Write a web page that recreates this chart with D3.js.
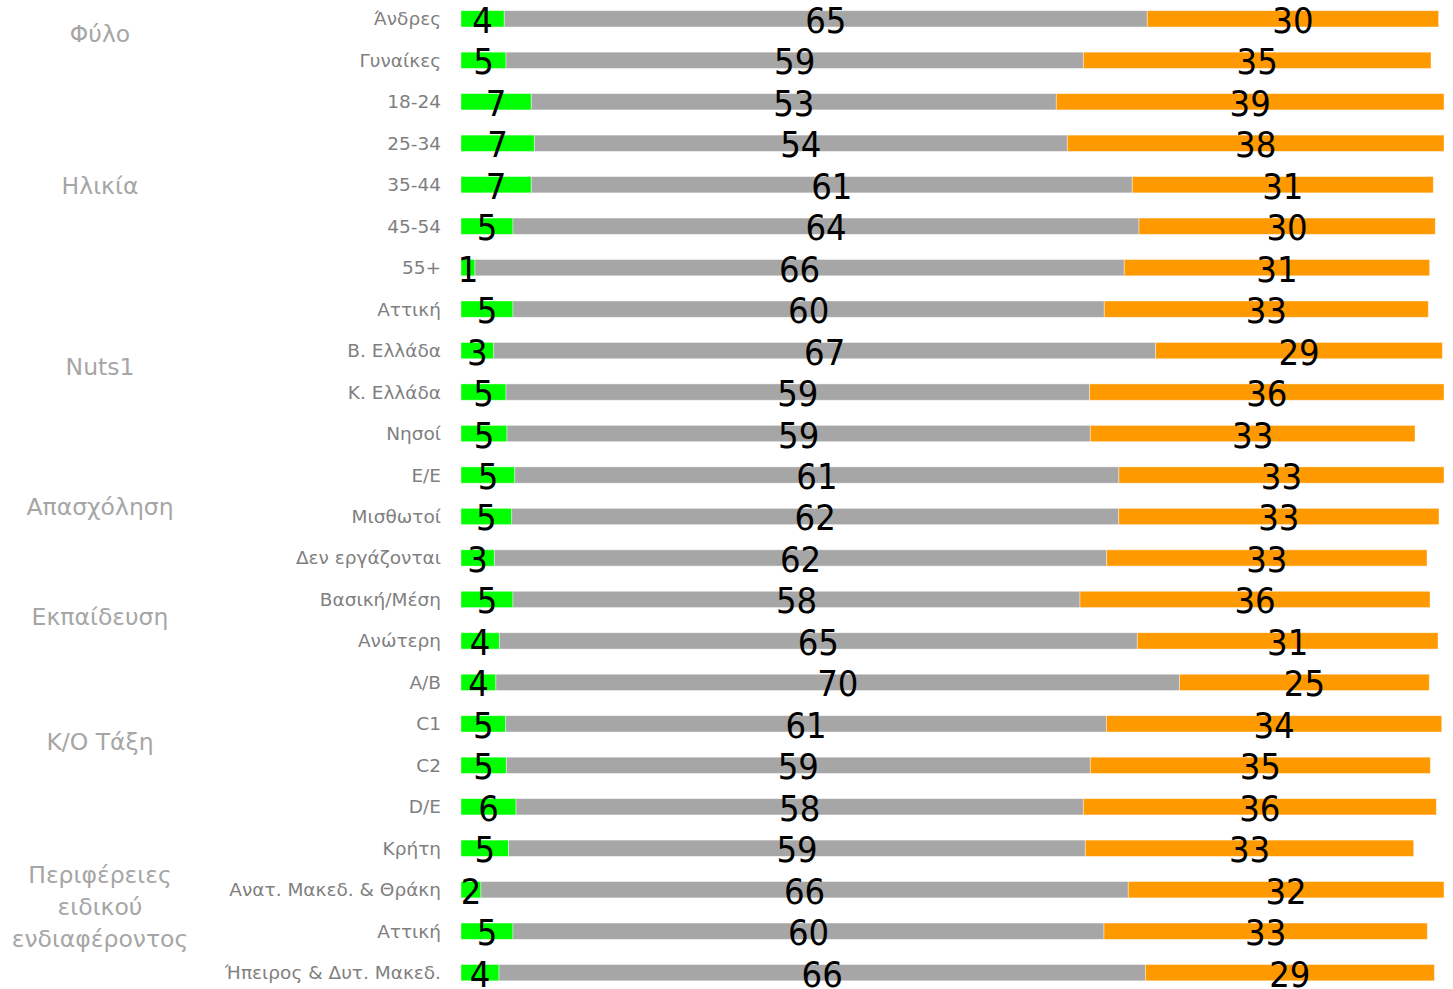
<!DOCTYPE html>
<html>
<head>
<meta charset="utf-8">
<style>
    body { margin: 0; background: #fff; }
    .cat { font-family: "DejaVu Sans", sans-serif; font-size: 18.5px; fill: #7f7f7f; }
    .grp { font-family: "DejaVu Sans", sans-serif; font-size: 23.5px; fill: #a6a6a6; }
    .val { font-family: "DejaVu Sans Condensed", "DejaVu Sans", sans-serif; font-size: 36px; fill: #000; }
</style>
<script src="https://cdn.jsdelivr.net/npm/d3@7"></script>
</head>
<body>
<svg id="container" width="1453" height="989"></svg>
<script>
    // κατηγορίες (γραμμές)
    const categories = ["Άνδρες", "Γυναίκες", "18-24", "25-34", "35-44", "45-54", "55+",
        "Αττική", "Β. Ελλάδα", "Κ. Ελλάδα", "Νησοί", "Ε/Ε", "Μισθωτοί", "Δεν εργάζονται",
        "Βασική/Μέση", "Ανώτερη", "Α/Β", "C1", "C2", "D/E",
        "Κρήτη", "Ανατ. Μακεδ. & Θράκη", "Αττική", "Ήπειρος & Δυτ. Μακεδ."]

    // τρεις σειρές (εκτίμηση από το σχήμα, οι ετικέτες στρογγυλεύονται)
    const greenValues  = [4.40, 4.58, 7.15, 7.46, 7.15, 5.29, 1.42, 5.29, 3.33, 4.58, 4.68, 5.48,
                          5.16, 3.39, 5.29, 3.90, 3.55, 4.55, 4.61, 5.60, 4.85, 2.03, 5.29, 3.87]
    const grayValues   = [65.41, 58.73, 53.41, 54.22, 61.14, 63.68, 66.05, 60.15, 67.34, 59.38, 59.34, 61.45,
                          61.75, 62.30, 57.68, 64.90, 69.55, 61.10, 59.41, 57.71, 58.66, 65.85, 60.12, 65.75]
    const orangeValues = [29.64, 35.37, 39.44, 38.32, 30.62, 30.14, 31.07, 32.96, 29.16, 36.04, 33.03, 33.07,
                          32.58, 32.58, 35.61, 30.59, 25.40, 34.12, 34.59, 35.91, 33.41, 32.12, 32.89, 29.40]

    // ομάδες: όνομα (γραμμές κειμένου), πρώτη και τελευταία γραμμή
    const groupNames = [["Φύλο"], ["Ηλικία"], ["Nuts1"], ["Απασχόληση"], ["Εκπαίδευση"], ["Κ/Ο Τάξη"],
                        ["Περιφέρειες", "ειδικού", "ενδιαφέροντος"]]
    const groupStart = [0, 2, 7, 11, 14, 16, 20]
    const groupEnd   = [1, 6, 10, 13, 15, 19, 23]
    const groupShift = [-3, 4, -1, -6, 0, 0, 0]

    const colors = ["#00ff00", "#a6a6a6", "#ff9900"]

    let svg = d3.select("#container")

    let rows = categories.map((c, i) => ({
        idx: i,
        name: c,
        vals: [greenValues[i], grayValues[i], orangeValues[i]]
    }))

    let xScale = d3.scaleLinear()
        .domain([0, 100])
        .range([461, 1444])

    let yScale = d3.scaleBand()
        .domain(d3.range(categories.length))
        .range([-1.9, 993.4])
        .paddingInner(0.607)
        .paddingOuter(0.3035)

    let stack = d3.stack()
        .keys([0, 1, 2])
        .value((d, k) => d.vals[k])

    let series = stack(rows)

    // περιορισμός στο εύρος του άξονα
    svg.append("clipPath").attr("id", "plot")
        .append("rect")
        .attr("x", xScale(0)).attr("y", 0)
        .attr("width", xScale(100) - xScale(0)).attr("height", 989)

    let bars = svg.append("g").attr("clip-path", "url(#plot)")

    bars.selectAll("g.serie")
        .data(series)
        .join("g")
        .attr("class", "serie")
        .attr("fill", (d, i) => colors[i])
        .selectAll("rect")
        .data(d => d)
        .join("rect")
        .attr("x", d => xScale(d[0]))
        .attr("y", d => yScale(d.data.idx))
        .attr("width", d => xScale(d[1]) - xScale(d[0]))
        .attr("height", yScale.bandwidth())
        .attr("stroke", "rgba(255,255,255,0.5)")
        .attr("stroke-width", 0.8)

    // ετικέτες τιμών
    let labels = svg.append("g")
    series.forEach(s => {
        labels.selectAll(null)
            .data(s)
            .join("text")
            .attr("class", "val")
            .attr("text-anchor", "middle")
            .attr("x", d => (xScale(d[0]) + Math.min(xScale(d[1]), xScale(100))) / 2)
            .attr("y", d => yScale(d.data.idx) + yScale.bandwidth() / 2 + 14)
            .text(d => Math.round(d[1] - d[0]))
    })

    // ονόματα κατηγοριών
    svg.append("g").selectAll("text")
        .data(rows)
        .join("text")
        .attr("class", "cat")
        .attr("text-anchor", "end")
        .attr("x", 441)
        .attr("y", d => yScale(d.idx) + yScale.bandwidth() / 2 + 6.5)
        .text(d => d.name)

    // ονόματα ομάδων
    let grp = svg.append("g")
    groupNames.forEach((lines, g) => {
        let mid = (yScale(groupStart[g]) + yScale(groupEnd[g]) + yScale.bandwidth()) / 2 + groupShift[g]
        let lh = 32
        let top = mid - (lines.length - 1) * lh / 2
        let t = grp.append("text")
            .attr("class", "grp")
            .attr("text-anchor", "middle")
        lines.forEach((ln, j) => {
            t.append("tspan")
                .attr("x", 100)
                .attr("y", top + j * lh + 5)
                .text(ln)
        })
    })
</script>
</body>
</html>
